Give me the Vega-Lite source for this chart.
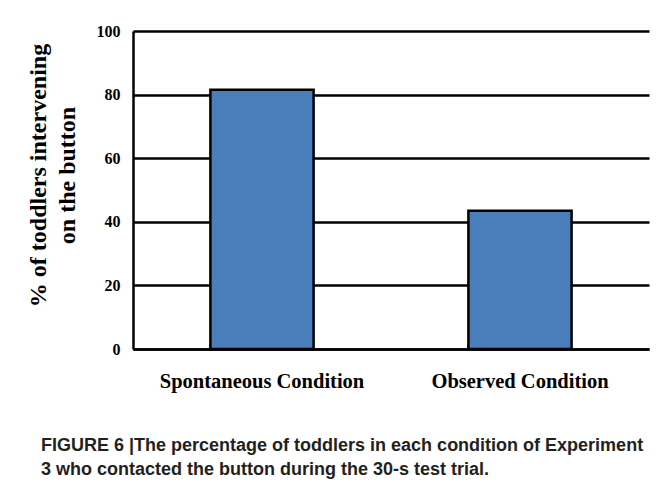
{
  "$schema": "https://vega.github.io/schema/vega-lite/v6.json",
  "autosize": "none",
  "padding": {"left": 133, "top": 31, "right": 18, "bottom": 137},
  "width": 516,
  "height": 318,
  "background": "white",
  "config": {
    "view": {"stroke": null},
    "axis": {"labelFont": "Liberation Serif", "titleFont": "Liberation Serif", "labelColor": "black", "titleColor": "black", "labelFontWeight": "bold", "titleFontWeight": "bold"}
  },
  "title": {
    "text": ["FIGURE 6 |The percentage of toddlers in each condition of Experiment", "3 who contacted the button during the 30-s test trial."],
    "orient": "bottom",
    "anchor": "start",
    "frame": "group",
    "dx": -92,
    "offset": 45,
    "font": "Liberation Sans",
    "fontSize": 18,
    "fontWeight": "bold",
    "color": "#231f20",
    "lineHeight": 24,
    "baseline": "top"
  },
  "data": {"values": [
    {"condition": "Spontaneous Condition", "percent": 81.5},
    {"condition": "Observed Condition", "percent": 43.5}
  ]},
  "mark": {"type": "bar", "fill": "#4a7ebb", "stroke": "black", "strokeWidth": 2.5},
  "encoding": {
    "x": {
      "field": "condition", "type": "nominal", "sort": null,
      "scale": {"paddingInner": 0.6, "paddingOuter": 0.3},
      "axis": {"title": null, "labelAngle": 0, "labelFontSize": 20.5, "labelLimit": 400, "labelPadding": 27, "domainColor": "black", "domainWidth": 2.5, "ticks": true, "tickColor": "black", "tickWidth": 2.5, "tickSize": -5, "bandPosition": 0, "grid": false}
    },
    "y": {
      "field": "percent", "type": "quantitative",
      "scale": {"domain": [0, 100], "nice": false},
      "axis": {
        "title": ["% of toddlers intervening", "on the button"],
        "titleFontSize": 24, "titleLineHeight": 29,
        "titleX": -83, "titleY": 144,
        "values": [0, 20, 40, 60, 80, 100],
        "labelFontSize": 16, "labelPadding": 13, "ticks": false,
        "domainColor": "black", "domainWidth": 2.5,
        "grid": true, "gridColor": "black", "gridWidth": 2.5, "gridOpacity": 1
      }
    }
  }
}
